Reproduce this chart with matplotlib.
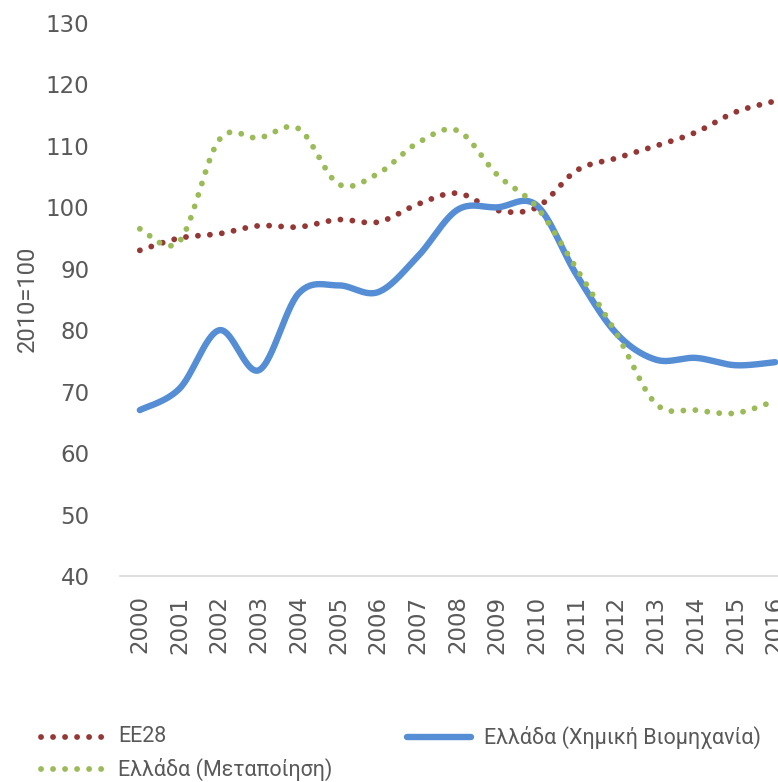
import numpy as np
import matplotlib
matplotlib.use("Agg")
import matplotlib.pyplot as plt
from matplotlib.lines import Line2D

years = [str(y) for y in range(2000, 2017)]
ee28 = [93.0, 95.0, 95.7, 97.0, 96.8, 98.0, 97.6, 100.5, 102.3, 99.5, 100.0,
        106.0, 108.0, 110.0, 112.2, 115.5, 117.3]
chem = [67.0, 70.5, 80.0, 73.5, 86.0, 87.3, 86.2, 92.0, 99.6, 100.0, 100.3,
        89.0, 79.5, 75.2, 75.5, 74.3, 74.8]
manuf = [96.5, 94.5, 111.0, 111.3, 112.8, 103.8, 105.5, 110.5, 112.5, 105.3, 100.0,
         90.0, 79.5, 68.0, 67.0, 66.5, 68.5]
labels = ["ΕΕ28", "Ελλάδα (Χημική Βιομηχανία)", "Ελλάδα (Μεταποίηση)"]
colors = ["#953735", "#558ED5", "#9BBB59"]


def smooth(x, y, n=30):
    """Catmull-Rom style smoothing similar to spreadsheet 'smoothed line'."""
    x = np.asarray(x, float)
    y = np.asarray(y, float)
    px = np.concatenate([[x[0]], x, [x[-1]]])
    py = np.concatenate([[y[0]], y, [y[-1]]])
    xs, ys = [], []
    for i in range(1, len(px) - 2):
        p0, p1, p2, p3 = (np.array([px[j], py[j]]) for j in (i - 1, i, i + 1, i + 2))
        c1 = p1 + (p2 - p0) / 6.0
        c2 = p2 - (p3 - p1) / 6.0
        t = np.linspace(0, 1, n, endpoint=(i == len(px) - 3))[:, None]
        b = ((1 - t) ** 3) * p1 + 3 * ((1 - t) ** 2) * t * c1 + 3 * (1 - t) * t ** 2 * c2 + t ** 3 * p2
        xs.append(b[:, 0]); ys.append(b[:, 1])
    return np.concatenate(xs), np.concatenate(ys)


fig = plt.figure(figsize=(7.78, 7.82), dpi=100)
ax = fig.add_axes([120 / 778, (782 - 576) / 782, 675 / 778, (576 - 23) / 782])

xpos = np.arange(len(years))
DLW = 4.2
dot = (0, (0.01, 2.05))

sx, sy = smooth(xpos, ee28)
ax.plot(sx, sy, color=colors[0], lw=DLW, linestyle=dot, dash_capstyle="round")
sx, sy = smooth(xpos, chem)
ax.plot(sx, sy, color=colors[1], lw=4.6, solid_capstyle="round")
sx, sy = smooth(xpos, manuf)
ax.plot(sx, sy, color=colors[2], lw=DLW, linestyle=dot, dash_capstyle="round")

ax.set_xlim(-0.5, len(years) - 0.5)
ax.set_ylim(40, 130)
ax.set_yticks(range(40, 131, 10))
ax.set_xticks(xpos)
ax.set_xticklabels(years, rotation=90)
for s in ["top", "right", "left"]:
    ax.spines[s].set_visible(False)
ax.spines["bottom"].set_color("#D9D9D9")
ax.spines["bottom"].set_linewidth(1.2)
ax.tick_params(axis="both", length=0, colors="#595959", labelsize=16.5)
ax.tick_params(axis="y", pad=22)
ax.tick_params(axis="x", pad=14)
for t in ax.get_yticklabels() + ax.get_xticklabels():
    t.set_family("DejaVu Sans")

fig.text(27 / 778, 1 - 299 / 782, "2010=100", rotation=90, ha="center", va="center",
         fontsize=17, color="#595959", family="Roboto")

styles = [
    dict(color=colors[0], lw=DLW, linestyle=dot, dash_capstyle="round"),
    dict(color=colors[1], lw=4.6, solid_capstyle="round"),
    dict(color=colors[2], lw=DLW, linestyle=dot, dash_capstyle="round"),
]
pos = [(41, 737), (407, 737), (41, 769)]
for st, lab, (px, py) in zip(styles, labels, pos):
    yy = 1 - py / 782
    fig.add_artist(Line2D([px / 778, (px + 64) / 778], [yy, yy], **st))
    fig.text((px + 77) / 778, yy, lab, ha="left", va="center", fontsize=15.5,
             color="#595959", family="Roboto")

fig.savefig("out.png", dpi=100)
